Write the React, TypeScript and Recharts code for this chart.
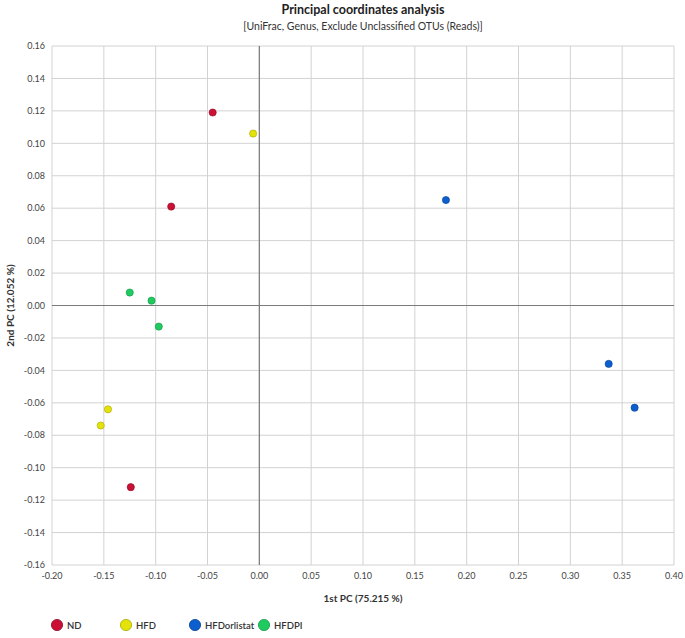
import React from "react";
import {
  ScatterChart,
  Scatter,
  XAxis,
  YAxis,
  CartesianGrid,
  ReferenceLine,
  Label,
} from "recharts";

const seriesNames = ["ND", "HFD", "HFDorlistat", "HFDPI"];
const seriesColors = ["#cc0f35", "#e3e30a", "#0b5fcf", "#1fcb5e"];
const seriesStrokes = ["#8a0a24", "#a8a800", "#063f8f", "#12954a"];

const ndX = [-0.045, -0.085, -0.124];
const ndY = [0.119, 0.061, -0.112];
const hfdX = [-0.006, -0.146, -0.153];
const hfdY = [0.106, -0.064, -0.074];
const orlX = [0.18, 0.337, 0.362];
const orlY = [0.065, -0.036, -0.063];
const piX = [-0.125, -0.104, -0.097];
const piY = [0.008, 0.003, -0.013];

const xTicks = [-0.2, -0.15, -0.1, -0.05, 0, 0.05, 0.1, 0.15, 0.2, 0.25, 0.3, 0.35, 0.4];
const yTicks = [0.16, 0.14, 0.12, 0.1, 0.08, 0.06, 0.04, 0.02, 0, -0.02, -0.04, -0.06, -0.08, -0.1, -0.12, -0.14, -0.16];

const toPts = (xs: number[], ys: number[]) => xs.map((x, i) => ({ x, y: ys[i] }));
const seriesData = [toPts(ndX, ndY), toPts(hfdX, hfdY), toPts(orlX, orlY), toPts(piX, piY)];

const FONT = "Lato, 'DejaVu Sans', sans-serif";

const makeShape = (idx: number) => (props: any) => {
  const { cx, cy } = props;
  return (
    <circle cx={cx} cy={cy} r={3.6} fill={seriesColors[idx]} stroke={seriesStrokes[idx]} strokeWidth={0.6} />
  );
};

const LegendBlock = () => (
  <div
    style={{
      position: "absolute",
      left: 50,
      top: 618,
      display: "flex",
      flexDirection: "row",
      fontFamily: FONT,
      fontSize: 9.5,
      color: "#333",
    }}
  >
    {seriesNames.map((n, i) => (
      <div key={n} style={{ width: 69, display: "flex", alignItems: "center" }}>
        <svg width={14} height={14} style={{ marginRight: 3 }}>
          <circle cx={7} cy={7} r={5.6} fill={seriesColors[i]} stroke={seriesStrokes[i]} strokeWidth={0.8} />
        </svg>
        <span style={{ fontWeight: 600 }}>{n}</span>
      </div>
    ))}
  </div>
);

export default function App() {
  return (
    <div style={{ position: "absolute", left: 0, top: 0, width: 685, height: 638, background: "#fff" }}>
      <div
        style={{
          position: "absolute",
          top: 2,
          left: 52,
          width: 622,
          textAlign: "center",
          fontFamily: FONT,
          fontWeight: 700,
          fontSize: 12.5,
          color: "#222",
        }}
      >
        Principal coordinates analysis
      </div>
      <div
        style={{
          position: "absolute",
          top: 20,
          left: 52,
          width: 622,
          textAlign: "center",
          fontFamily: FONT,
          fontSize: 10.5,
          color: "#333",
        }}
      >
        [UniFrac, Genus, Exclude Unclassified OTUs (Reads)]
      </div>
      <ScatterChart width={685} height={638} margin={{ top: 46, right: 11, bottom: 53, left: 12 }}>
        <CartesianGrid stroke="#d2d2d2" strokeWidth={1} horizontalValues={yTicks} verticalValues={xTicks} />
        <XAxis
          type="number"
          dataKey="x"
          domain={[-0.2, 0.4]}
          ticks={xTicks}
          interval={0}
          allowDataOverflow
          axisLine={false}
          tickLine={false}
          tickSize={6}
          tickMargin={2}
          height={20}
          tickFormatter={(v: number) => v.toFixed(2)}
          tick={{ fontFamily: FONT, fontSize: 9, fill: "#444" }}
        >
          <Label
            value="1st PC (75.215 %)"
            position="bottom"
            offset={10}
            style={{ fontFamily: FONT, fontSize: 10, fontWeight: 700, fill: "#333" }}
          />
        </XAxis>
        <YAxis
          type="number"
          dataKey="y"
          domain={[-0.16, 0.16]}
          ticks={yTicks}
          interval={0}
          allowDataOverflow
          axisLine={false}
          tickLine={false}
          tickSize={5}
          tickMargin={2}
          width={40}
          tickFormatter={(v: number) => v.toFixed(2)}
          tick={{ fontFamily: FONT, fontSize: 9, fill: "#444" }}
        >
          <Label
            value="2nd PC (12.052 %)"
            angle={-90}
            position="insideLeft"
            offset={-2}
            style={{ textAnchor: "middle", fontFamily: FONT, fontSize: 10, fontWeight: 700, fill: "#333" }}
          />
        </YAxis>
        <ReferenceLine x={0} stroke="#7a7a7a" strokeWidth={1.2} />
        <ReferenceLine y={0} stroke="#7a7a7a" strokeWidth={1.2} />
        {seriesNames.map((n, i) => (
          <Scatter
            key={n}
            name={n}
            data={seriesData[i]}
            fill={seriesColors[i]}
            shape={makeShape(i)}
            isAnimationActive={false}
          />
        ))}
      </ScatterChart>
      <LegendBlock />
    </div>
  );
}
